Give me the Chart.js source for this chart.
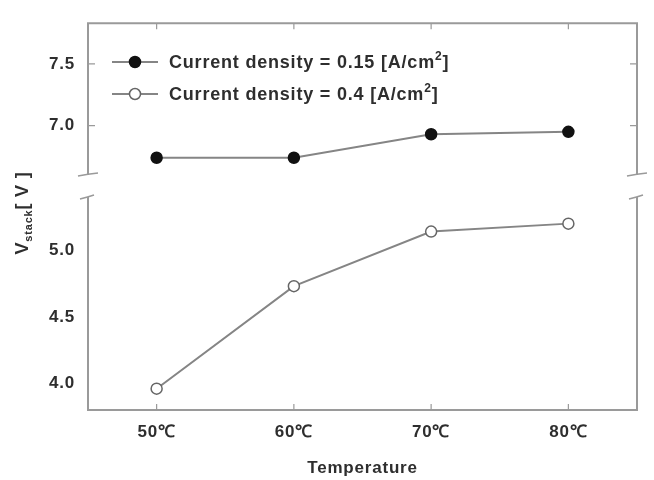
<!DOCTYPE html>
<html>
<head>
<meta charset="utf-8">
<script src="https://cdn.jsdelivr.net/npm/chart.js@4.4.1/dist/chart.umd.min.js"></script>
<style>
html, body { margin: 0; padding: 0; background: #fff; }
#wrap { position: relative; width: 654px; height: 480px; }
#wrap canvas { position: absolute; left: 0; top: 0; }
</style>
</head>
<body>
<div id="wrap">
  <canvas id="chart-top" width="654" height="480"></canvas>
  <canvas id="chart-bottom" width="654" height="480"></canvas>
</div>
<script>
var temperatures = ['50℃', '60℃', '70℃', '80℃'];
var vLowDensity = [6.74, 6.74, 6.93, 6.95];   // 0.15 A/cm2, filled
var vHighDensity = [3.98, 4.75, 5.16, 5.22];  // 0.4 A/cm2, open
var densityLabels = ['0.15', '0.4'];
var topRange = [6.6, 7.83];
var bottomRange = [3.82, 5.42];

var family = "'Liberation Sans', Arial, sans-serif";
var textColor = '#2e2e2e';
var frameColor = '#9a9a9a';
var lineColor = '#858585';

function tickLabel(v) {
  var r = Math.round(v * 10);
  return r % 5 === 0 ? (r / 10).toFixed(1) : null;
}

function yScale(range) {
  return {
    min: range[0], max: range[1],
    ticks: { stepSize: 0.1, includeBounds: false, padding: 13, color: textColor,
      font: { family: family, size: 17, weight: 'bold' }, callback: tickLabel },
    grid: { display: false, drawTicks: false },
    border: { display: false },
    afterFit: function(s) { s.width = 88; }
  };
}

// frame, inward ticks and the axis break marks
function framePlugin(part) {
  return {
    id: 'frame',
    beforeDraw: function(chart) { chart.ctx.letterSpacing = '0.8px'; },
    afterDraw: function(chart) {
      var ctx = chart.ctx, a = chart.chartArea, ys = chart.scales.y, xs = chart.scales.x;
      ctx.save();
      ctx.strokeStyle = frameColor;
      ctx.lineWidth = 2;
      ctx.beginPath();
      if (part === 'top') {
        ctx.moveTo(a.left, a.bottom); ctx.lineTo(a.left, a.top); ctx.lineTo(a.right, a.top); ctx.lineTo(a.right, a.bottom);
      } else {
        ctx.moveTo(a.left, a.top); ctx.lineTo(a.left, a.bottom); ctx.lineTo(a.right, a.bottom); ctx.lineTo(a.right, a.top);
      }
      ctx.stroke();

      ctx.lineWidth = 1.2;
      ctx.beginPath();
      ys.ticks.forEach(function(t) {
        var v = t.value;
        if (Math.abs(v * 10 - Math.round(v * 10)) > 0.01) return;
        var len = Math.round(v * 10) % 5 === 0 ? 7 : 4;
        var py = ys.getPixelForValue(v);
        ctx.moveTo(a.left, py); ctx.lineTo(a.left + len, py);
        ctx.moveTo(a.right, py); ctx.lineTo(a.right - len, py);
      });
      temperatures.forEach(function(_, i) {
        var px = xs.getPixelForValue(i);
        if (part === 'top') { ctx.moveTo(px, a.top); ctx.lineTo(px, a.top + 6); }
        else { ctx.moveTo(px, a.bottom); ctx.lineTo(px, a.bottom - 6); }
      });
      ctx.stroke();

      // break marks
      ctx.lineWidth = 1.5;
      ctx.beginPath();
      [a.left, a.right].forEach(function(ax) {
        if (part === 'top') {
          ctx.moveTo(ax - 10, a.bottom + 1); ctx.quadraticCurveTo(ax, a.bottom - 1, ax + 10, a.bottom - 2);
        } else {
          ctx.moveTo(ax - 8, a.top + 2); ctx.quadraticCurveTo(ax, a.top, ax + 6, a.top - 2);
        }
      });
      ctx.stroke();
      ctx.restore();
    }
  };
}

function drawMarker(ctx, x, y, filled) {
  ctx.beginPath();
  ctx.arc(x, y, 5.5, 0, Math.PI * 2);
  ctx.fillStyle = filled ? '#111' : '#fff';
  ctx.strokeStyle = filled ? '#111' : '#666';
  ctx.lineWidth = 1.5;
  ctx.fill();
  ctx.stroke();
}

var legendPlugin = {
  id: 'customLegend',
  afterDraw: function(chart) {
    var ctx = chart.ctx;
    ctx.save();
    densityLabels.forEach(function(d, i) {
      var y = 62 + i * 32;
      ctx.strokeStyle = lineColor;
      ctx.lineWidth = 2;
      ctx.beginPath(); ctx.moveTo(112, y); ctx.lineTo(158, y); ctx.stroke();
      drawMarker(ctx, 135, y, i === 0);
      ctx.fillStyle = textColor;
      ctx.textBaseline = 'alphabetic';
      var x = 169, base = y + 6;
      ctx.font = 'bold 18px ' + family;
      var t1 = 'Current density = ' + d + ' [A/cm';
      ctx.fillText(t1, x, base);
      x += ctx.measureText(t1).width;
      ctx.font = 'bold 12px ' + family;
      ctx.fillText('2', x, base - 8);
      x += ctx.measureText('2').width;
      ctx.font = 'bold 18px ' + family;
      ctx.fillText(']', x, base);
    });
    ctx.restore();
  }
};

var yTitlePlugin = {
  id: 'yTitle',
  afterDraw: function(chart) {
    var ctx = chart.ctx;
    var big = 'bold 18px ' + family, small = 'bold 11px ' + family;
    ctx.save();
    ctx.fillStyle = textColor;
    ctx.translate(22, 213);
    ctx.rotate(-Math.PI / 2);
    ctx.font = big;
    var w1 = ctx.measureText('V').width, w3 = ctx.measureText('[ V ]').width;
    ctx.font = small;
    var w2 = ctx.measureText('stack').width;
    var x0 = -(w1 + w2 + w3) / 2;
    ctx.font = big; ctx.fillText('V', x0, 6);
    ctx.font = small; ctx.fillText('stack', x0 + w1, 10);
    ctx.font = big; ctx.fillText('[ V ]', x0 + w1 + w2, 6);
    ctx.restore();
  }
};

function lineDataset(values, filled) {
  return {
    data: values, borderColor: lineColor, borderWidth: 2,
    pointRadius: 5.5, pointBorderWidth: 1.5,
    pointBackgroundColor: filled ? '#111' : '#fff',
    pointBorderColor: filled ? '#111' : '#666'
  };
}

var baseOptions = {
  responsive: false, animation: false, events: [],
  plugins: { legend: { display: false }, tooltip: { enabled: false } }
};

new Chart(document.getElementById('chart-top').getContext('2d'), {
  type: 'line',
  data: { labels: temperatures, datasets: [lineDataset(vLowDensity, true)] },
  options: Object.assign({}, baseOptions, {
    layout: { padding: { left: 0, right: 17, top: 18, bottom: 305 } },
    scales: {
      x: { display: false, offset: true },
      y: yScale(topRange)
    }
  }),
  plugins: [framePlugin('top'), legendPlugin]
});

new Chart(document.getElementById('chart-bottom').getContext('2d'), {
  type: 'line',
  data: { labels: temperatures, datasets: [lineDataset(vHighDensity, false)] },
  options: Object.assign({}, baseOptions, {
    layout: { padding: { left: 0, right: 17, top: 197, bottom: 0 } },
    scales: {
      x: {
        offset: true,
        ticks: { padding: 12, color: textColor, font: { family: family, size: 17, weight: 'bold' } },
        grid: { display: false, drawTicks: false },
        border: { display: false },
        title: { display: true, text: 'Temperature', color: textColor, padding: { top: 0, bottom: 1 },
          font: { family: family, size: 17, weight: 'bold' } },
        afterFit: function(s) { s.height = 70; }
      },
      y: yScale(bottomRange)
    }
  }),
  plugins: [framePlugin('bottom'), yTitlePlugin]
});
</script>
</body>
</html>
